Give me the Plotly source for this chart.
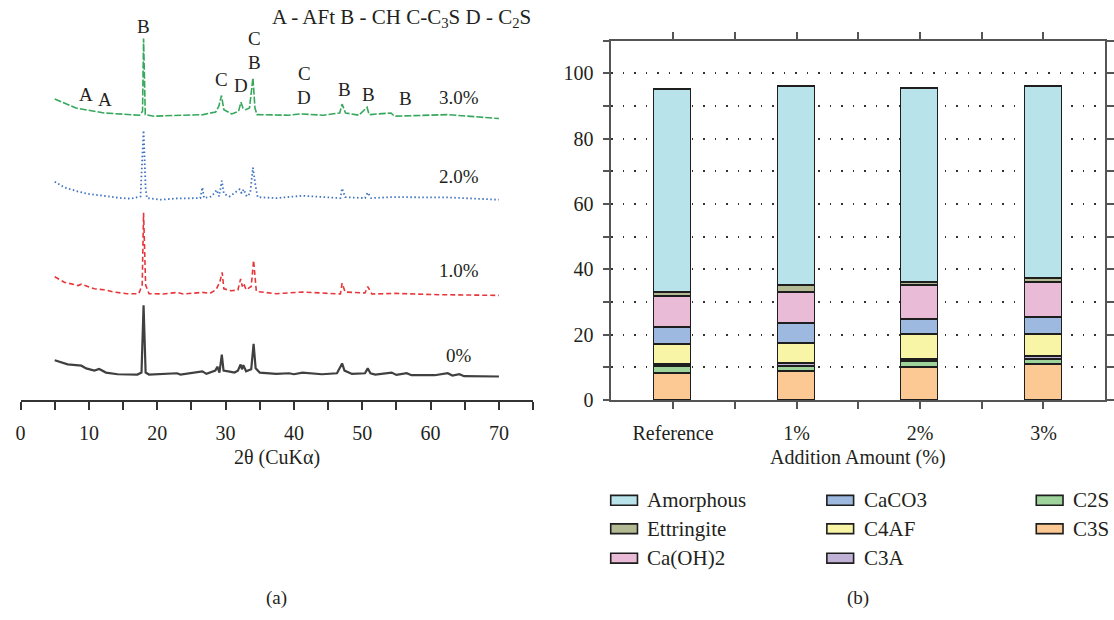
import plotly.graph_objects as go

# ---------------- data: left panel (XRD patterns, 2theta vs intensity a.u.) ----------------
pattern_0 = [(5.0, 40.6), (6.9, 36.3), (8.9, 35.0), (9.6, 32.3), (10.8, 30.0), (11.5, 31.6), (12.5, 28.0),
             (14.2, 26.3), (17.1, 26.0), (17.7, 28.0), (18.0, 96.6), (18.3, 28.0), (18.8, 26.0), (22.9, 27.3),
             (23.4, 26.0), (26.6, 29.3), (27.2, 26.7), (28.5, 30.0), (28.8, 34.0), (29.1, 28.0), (29.45, 46.3),
             (29.7, 30.0), (30.6, 29.0), (31.3, 28.0), (31.8, 30.0), (32.2, 36.3), (32.4, 31.3), (32.6, 35.6),
             (33.0, 29.3), (33.75, 31.3), (34.1, 57.3), (34.4, 32.3), (35.0, 28.0), (37.4, 26.6), (39.3, 27.3),
             (40.0, 26.3), (41.25, 28.0), (44.1, 26.3), (46.3, 27.3), (47.05, 37.3), (47.4, 30.0), (48.5, 26.6),
             (50.4, 27.3), (50.8, 32.3), (51.2, 27.3), (51.9, 26.0), (54.3, 28.0), (55.0, 25.6), (56.5, 27.3),
             (57.2, 25.3), (60.6, 25.3), (62.5, 27.3), (63.2, 25.0), (64.2, 26.3), (64.9, 24.3), (70.0, 24.0)]
pattern_1 = [(5.0, 125.6), (6.4, 120.0), (8.4, 116.6), (8.9, 118.0), (10.8, 113.3), (12.2, 112.3), (13.7, 110.0),
             (15.6, 108.3), (17.3, 108.3), (17.8, 117.3), (18.0, 190.6), (18.3, 117.3), (18.8, 108.3), (20.9, 108.0),
             (22.9, 109.6), (23.8, 108.0), (26.6, 109.6), (27.7, 108.6), (28.6, 112.3), (28.8, 115.6), (29.15, 120.0),
             (29.5, 130.0), (29.75, 113.3), (30.8, 111.3), (31.8, 112.0), (32.2, 123.3), (32.45, 115.6), (32.65, 119.0),
             (33.0, 112.3), (33.75, 115.6), (34.1, 142.3), (34.5, 110.6), (37.4, 108.3), (41.25, 110.0), (46.8, 108.0),
             (47.05, 119.0), (47.5, 110.0), (50.4, 109.0), (50.8, 115.6), (51.4, 108.0), (54.8, 108.6), (61.1, 107.3),
             (70.0, 106.6)]
pattern_2 = [(5.0, 222.3), (6.4, 216.6), (8.4, 212.3), (9.8, 210.0), (12.2, 208.0), (14.2, 206.0), (16.1, 205.0),
             (17.55, 207.3), (18.0, 274.6), (18.3, 215.6), (18.5, 205.6), (20.5, 204.0), (22.9, 205.3), (26.3, 205.6),
             (26.6, 216.6), (26.85, 205.6), (27.95, 207.3), (28.7, 214.0), (29.05, 207.3), (29.45, 223.3), (29.75, 210.0),
             (30.6, 207.3), (32.05, 214.6), (32.35, 210.6), (32.65, 214.6), (33.1, 207.3), (33.6, 210.6), (34.0, 236.6),
             (34.4, 217.3), (34.7, 206.6), (37.4, 205.6), (41.25, 208.0), (46.8, 205.6), (47.05, 215.6), (47.5, 206.6),
             (50.4, 205.6), (50.8, 211.3), (51.3, 205.6), (54.3, 206.6), (62.5, 206.3), (70.0, 204.0)]
pattern_3 = [(5.0, 306.6), (8.1, 297.3), (12.2, 292.3), (17.4, 290.0), (17.85, 294.0), (18.0, 368.0), (18.25, 290.6),
             (19.5, 289.0), (23.6, 290.0), (26.7, 290.6), (28.55, 293.3), (29.0, 299.0), (29.4, 310.0), (29.75, 295.6),
             (30.9, 291.3), (31.9, 294.0), (32.25, 303.3), (32.55, 297.3), (32.95, 295.6), (33.5, 297.3), (34.0, 328.0),
             (34.3, 297.3), (34.6, 290.6), (39.2, 290.0), (41.0, 291.3), (44.35, 290.0), (46.7, 292.3), (47.05, 301.3),
             (47.55, 292.3), (49.5, 290.0), (50.7, 298.0), (51.0, 290.6), (54.2, 292.3), (54.7, 289.0), (62.5, 290.6),
             (70.0, 286.6)]

series_names = ["0%", "1.0%", "2.0%", "3.0%"]
series_label_y = [45.6, 132.3, 227.3, 308.3]
series_label_x = 64.15

peak_labels = ["A", "A", "B", "C", "D", "C", "B", "C", "D", "B", "B", "B"]
peak_theta = [9.53, 12.39, 17.93, 29.43, 32.28, 34.25, 34.25, 41.5, 41.5, 47.36, 50.88, 56.37]
peak_label_y = [310.6, 306.3, 380.0, 326.3, 320.0, 368.0, 344.0, 332.3, 308.0, 316.6, 311.3, 307.3]

x_ticks_left = list(range(0, 80, 5))
x_ticktext_left = [str(v) if v % 10 == 0 and v < 75 else "" for v in x_ticks_left]

# ---------------- data: right panel (phase contents, %) ----------------
categories = ["Reference", "1%", "2%", "3%"]
phases = ["C3S", "C2S", "C3A", "C4AF", "CaCO3", "Ca(OH)2", "Ettringite", "Amorphous"]
C3S = [8.2, 8.7, 9.9, 10.8]
C2S = [2.0, 1.5, 1.8, 1.5]
C3A = [0.8, 1.0, 0.8, 1.0]
C4AF = [6.1, 6.0, 7.6, 6.6]
CaCO3 = [5.2, 6.2, 4.6, 5.4]
CaOH2 = [9.3, 9.4, 10.3, 10.8]
Ettringite = [1.3, 2.2, 0.9, 1.0]
Amorphous = [62.2, 61.0, 59.5, 58.9]
phase_values = [C3S, C2S, C3A, C4AF, CaCO3, CaOH2, Ettringite, Amorphous]

y_ticks_right = list(range(0, 111, 10))
y_ticktext_right = [str(v) if v % 20 == 0 and v <= 100 else "" for v in y_ticks_right]

# ---------------- styles ----------------
FONT = "Liberation Serif"
TXT = "#231f20"
line_styles = [
    dict(color="#404040", width=2.2, dash="solid"),
    dict(color="#e8353a", width=1.6, dash="5px,3px"),
    dict(color="#3c72c0", width=1.8, dash="1.5px,2.5px"),
    dict(color="#35a85c", width=1.6, dash="7px,2px"),
]
phase_colors = {
    "Amorphous": "#b8e3ea", "Ettringite": "#b3ba93", "Ca(OH)2": "#eabbd6", "CaCO3": "#9db9e0",
    "C4AF": "#f8f6a6", "C3A": "#c0b1d6", "C2S": "#9ed49b", "C3S": "#fcc894",
}

W, H = 1114, 620
def px(x):
    return x / W
def py(y):
    return 1 - y / H

fig = go.Figure()

patterns = [pattern_0, pattern_1, pattern_2, pattern_3]
for name, pat, st in zip(series_names, patterns, line_styles):
    fig.add_trace(go.Scatter(
        x=[p[0] for p in pat], y=[p[1] for p in pat], mode="lines", name=name,
        line=st, showlegend=False, xaxis="x", yaxis="y"))

xcat = [i + 0.5 for i in range(len(categories))]
for name, vals in zip(phases, phase_values):
    fig.add_trace(go.Bar(
        x=xcat, y=vals, name=name, width=0.3, xaxis="x2", yaxis="y2", showlegend=False,
        marker=dict(color=phase_colors[name], line=dict(color="#1e1e1e", width=1.6))))

annotations = []
for lab, th, yy in zip(peak_labels, peak_theta, peak_label_y):
    annotations.append(dict(x=th, y=yy, xref="x", yref="y", text=lab, showarrow=False,
                            font=dict(family=FONT, size=19, color=TXT), xanchor="center", yanchor="middle"))
for name, yy in zip(series_names, series_label_y):
    annotations.append(dict(x=series_label_x, y=yy, xref="x", yref="y", text=name, showarrow=False,
                            font=dict(family=FONT, size=19, color=TXT), xanchor="center", yanchor="middle"))
annotations.append(dict(x=px(400), y=py(18.3), xref="paper", yref="paper",
                        text="A - AFt B - CH C-C<sub>3</sub>S D - C<sub>2</sub>S", showarrow=False,
                        font=dict(family=FONT, size=21, color=TXT), xanchor="center", yanchor="middle"))
annotations.append(dict(x=px(274.3), y=py(466), xref="paper", yref="paper", text="2θ (CuKα)",
                        showarrow=False, font=dict(family=FONT, size=20, color=TXT),
                        xanchor="center", yanchor="middle"))
annotations.append(dict(x=px(861), y=py(466), xref="paper", yref="paper", text="Addition Amount (%)",
                        showarrow=False, font=dict(family=FONT, size=20, color=TXT),
                        xanchor="center", yanchor="middle"))
annotations.append(dict(x=px(274.3), y=py(609.3), xref="paper", yref="paper", text="(a)",
                        showarrow=False, font=dict(family=FONT, size=19, color=TXT),
                        xanchor="center", yanchor="middle"))
annotations.append(dict(x=px(860.4), y=py(609.3), xref="paper", yref="paper", text="(b)",
                        showarrow=False, font=dict(family=FONT, size=19, color=TXT),
                        xanchor="center", yanchor="middle"))

# legend drawn as swatches + text (3 columns, column-major, top phase first)
legend_order = phases[::-1]
col_x = [611.2, 829.3, 1040.6]
row_y = [509.3, 538.3, 568.3]
shapes = []
for i, name in enumerate(legend_order):
    c, r = divmod(i, 3)
    x0 = col_x[c]
    yc = row_y[r]
    shapes.append(dict(type="rect", xref="paper", yref="paper",
                       x0=px(x0), x1=px(x0 + 27), y0=py(yc + 5), y1=py(yc - 5),
                       fillcolor=phase_colors[name], line=dict(color="#1e1e1e", width=1.6)))
    annotations.append(dict(x=px(x0 + 35), y=py(yc), xref="paper", yref="paper", text=name,
                            showarrow=False, font=dict(family=FONT, size=21, color=TXT),
                            xanchor="left", yanchor="middle"))

axis_col = "#555555"
fig.update_layout(
    width=W, height=H, margin=dict(l=0, r=0, t=0, b=0),
    paper_bgcolor="white", plot_bgcolor="white",
    font=dict(family=FONT, size=20, color=TXT),
    barmode="stack", bargap=0,
    xaxis=dict(domain=[px(15.7), px(532.9)], range=[0, 75], tickmode="array",
               tickvals=x_ticks_left, ticktext=x_ticktext_left, ticks="outside", ticklen=8,
               tickwidth=1.5, tickcolor="#333", showline=True, linecolor="#333", linewidth=1.5,
               showgrid=False, zeroline=False, tickfont=dict(family=FONT, size=20, color=TXT),
               ticklabelstandoff=6, anchor="y"),
    yaxis=dict(domain=[py(407.3), 1.0], range=[0, 407.3], visible=False, anchor="x"),
    xaxis2=dict(domain=[px(611.8), px(1110.2)], range=[0, 4], tickmode="array",
                tickvals=[0.5, 1, 1.5, 2, 2.5, 3, 3.5],
                ticktext=[categories[0], "", categories[1], "", categories[2], "", categories[3]],
                ticks="outside", ticklen=7, tickwidth=1.5, tickcolor=axis_col,
                showline=True, linecolor=axis_col, linewidth=1.5, mirror="ticks",
                showgrid=False, zeroline=False, tickfont=dict(family=FONT, size=20, color=TXT),
                ticklabelstandoff=7, anchor="y2"),
    yaxis2=dict(domain=[py(407.3), py(41.3)], range=[0, 110], tickmode="array",
                tickvals=y_ticks_right, ticktext=y_ticktext_right,
                ticks="outside", ticklen=7, tickwidth=1.5, tickcolor=axis_col,
                showline=True, linecolor=axis_col, linewidth=1.5, mirror="ticks",
                showgrid=True, gridcolor="#333333", gridwidth=1.5, griddash="1.5px,10px",
                zeroline=False, tickfont=dict(family=FONT, size=20, color=TXT), anchor="x2",
                ticklabelstandoff=5),
    annotations=annotations, shapes=shapes,
)

fig.write_html("out.html")
